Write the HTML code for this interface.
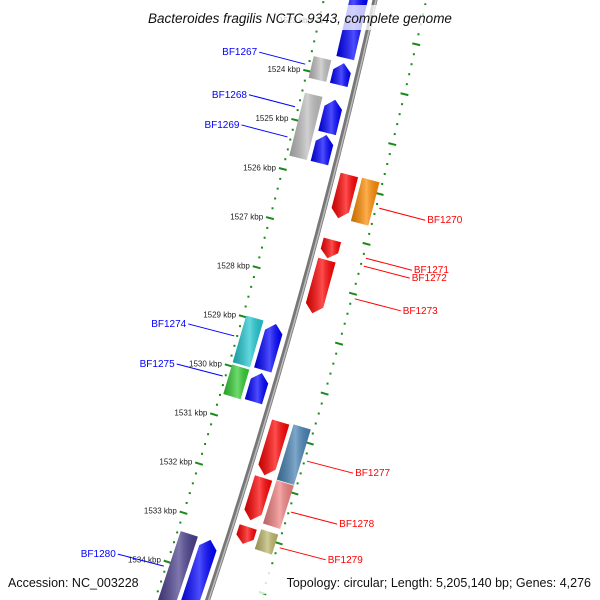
<!DOCTYPE html>
<html><head><meta charset="utf-8"><style>
html,body{margin:0;padding:0;background:#fff;}
svg{display:block;font-family:"Liberation Sans","DejaVu Sans",sans-serif;}
</style></head><body>
<svg id="chart" width="600" height="600" viewBox="0 0 600 600" xmlns="http://www.w3.org/2000/svg">
<defs>
<linearGradient id="shade" x1="0" y1="0" x2="1" y2="0">
<stop offset="0" stop-color="#000" stop-opacity="0.22"/>
<stop offset="0.55" stop-color="#fff" stop-opacity="0.3"/>
<stop offset="1" stop-color="#000" stop-opacity="0.1"/>
</linearGradient>
</defs>
<g id="tracks"></g>
<g id="feats"></g>
<g id="labels"></g>
<rect x="125" y="5" width="350" height="25" fill="#fff" opacity="0.75"/>
<text x="300" y="23" text-anchor="middle" font-size="13.5" font-style="italic" fill="#111">Bacteroides fragilis NCTC 9343, complete genome</text>
<rect x="4" y="572" width="140" height="22" fill="#fff" opacity="0.8"/>
<rect x="256" y="572" width="340" height="22" fill="#fff" opacity="0.8"/>
<text x="8" y="587" font-size="12.5" fill="#111">Accession: NC_003228</text>
<text x="591" y="587" text-anchor="end" font-size="12.5" fill="#111">Topology: circular; Length: 5,205,140 bp; Genes: 4,276</text>
</svg>
<script>
// data
const featStart=[1522.13,1523.51,1523.61,1524.25,1524.35,1525.06,1525.87,1525.97,1527.18,1527.59,1528.76,1528.88,1529.75,1529.87,1530.86,1530.96,1531.99,1532.09,1532.98,1533.08,1533.12,1533.24];
const featEnd=[1523.51,1523.95,1524.05,1525.53,1525.02,1525.63,1526.74,1526.84,1527.55,1528.66,1529.71,1529.81,1530.35,1530.45,1531.93,1532.07,1532.84,1532.96,1533.32,1533.48,1534.66,1534.66];
const featLane=[-1,-2,-1,-2,-1,-1,1,2,1,1,-2,-1,-2,-1,1,2,1,2,1,2,-2,-1];
const featColor=["#0000ff","#c0c0c0","#0000ff","#bdbdbd","#0000ff","#0000ff","#ff0000","#ff8c00","#ff0000","#ff0000","#20c8d0","#0000ff","#33cc33","#0000ff","#ff0000","#4682b4","#ff0000","#f08080","#ff0000","#bdb76b","#483d8b","#0000ff"];
const featArrow=[1,0,1,0,1,1,1,0,1,1,0,1,0,1,1,0,1,0,1,0,0,1];
const tickKbp=[1523,1524,1525,1526,1527,1528,1529,1530,1531,1532,1533,1534];
const tickLabels=["1523 kbp","1524 kbp","1525 kbp","1526 kbp","1527 kbp","1528 kbp","1529 kbp","1530 kbp","1531 kbp","1532 kbp","1533 kbp","1534 kbp"];
const labelNames=["BF1267","BF1268","BF1269","BF1270","BF1271","BF1272","BF1273","BF1274","BF1275","BF1277","BF1278","BF1279","BF1280"];
const labelKbp=[1523.63,1524.49,1525.10,1526.54,1527.55,1527.71,1528.37,1529.12,1529.93,1531.65,1532.68,1533.40,1533.77];
const labelSide=[-1,-1,-1,1,1,1,1,-1,-1,1,1,1,-1];

const NS="http://www.w3.org/2000/svg";
function yOf(k){return 33+(k-1523)*49.5;}
function bb(y){return 375-0.225*y-0.00009*y*y;}
function sl(y){return -0.225-0.00018*y;}
// point at kbp k, perpendicular offset off
function pt(k,off){const y0=yOf(k),s=sl(y0),n=Math.sqrt(1+s*s);return [bb(y0)+off/n,y0-s*off/n];}
function mk(tag,attrs,parent){const e=document.createElementNS(NS,tag);for(const a in attrs)e.setAttribute(a,attrs[a]);parent.appendChild(e);return e;}
const tracks=document.getElementById('tracks'),feats=document.getElementById('feats'),labels=document.getElementById('labels');

// backbone
let d="";for(let y=-5;y<=605;y+=5){d+=(y===-5?"M":"L")+bb(y).toFixed(1)+","+y;}
let p=mk('path',{d:d,stroke:"#777",'stroke-width':5,fill:"none"},tracks);


p=mk('path',{d:d,stroke:"#bbb",'stroke-width':1.5,fill:"none",transform:"translate(1,0)"},tracks);



// scale tracks
[-50,50].forEach(off=>{
  for(let i=-10;i<=60;i++){
    const kk=1523+i*0.2;const q=pt(kk,off);if(q[1]<-5||q[1]>605)continue;
    const major=(i%5===0);
    let r;
    if(major){const a=pt(kk,off-4),b=pt(kk,off+4);r=mk('line',{x1:a[0],y1:a[1],x2:b[0],y2:b[1],stroke:"#1a8a1a",'stroke-width':2},tracks);}
    else r=mk('rect',{x:q[0]-1,y:q[1]-1,width:2,height:2,fill:"#1a8a1a"},tracks);
    
    
  }
});
tickKbp.forEach((k,i)=>{
  const q=pt(k,-57);const t=mk('text',{x:q[0],y:q[1]+3,'text-anchor':'end','font-size':8,fill:"#222"},tracks);
  t.textContent=tickLabels[i];
  
  
});

// features
const laneOff={"-1":[-25,-7],"-2":[-47,-29],"1":[7,25],"2":[29,47]};
featStart.forEach((s0,i)=>{
  const L=featLane[i],[a,b]=laneOff[L];
  const c=(a+b)/2;const sm=sl(yOf(s0));const adj=(sm*c/Math.sqrt(1+sm*sm))/49.5;
  const s=s0+adj,e=featEnd[i]+adj;
  const A1=pt(s,a),B1=pt(s,b),A2=pt(e,a),B2=pt(e,b),C1=pt(s,c),C2=pt(e,c);
  let pts;
  if(featArrow[i]){
    const h=Math.min(8,(e-s)*49.5*0.4)/49.5;
    if(L<0){const km=s+h;pts=[C1,pt(km,b),B2,A2,pt(km,a)];}
    else{const km=e-h;pts=[A1,B1,pt(km,b),C2,pt(km,a)];}
  } else pts=[A1,B1,B2,A2];
  const ps=pts.map(q=>q[0].toFixed(1)+","+q[1].toFixed(1)).join(" ");
  let f=mk('polygon',{points:ps,fill:featColor[i]},feats);
  
  
  f=mk('polygon',{points:ps,fill:"url(#shade)"},feats);
  
  
});

// labels
labelNames.forEach((n,i)=>{
  const k=labelKbp[i],side=labelSide[i];const y=yOf(k);
  const col=side<0?"#0000ff":"#ff0000";
  const x0=bb(y)+side*55, x1=x0+side*46, y1=side<0?y-12:y+12;
  const l=mk('line',{x1:x0,y1:y,x2:x1,y2:y1,stroke:col,'stroke-width':1},labels);
  
  
  const t=mk('text',{x:side<0?x1-2:x1+2,y:y1+3,'text-anchor':side<0?'end':'start','font-size':10,fill:col},labels);
  t.textContent=n;
  
  
});
</script>
</body></html>
